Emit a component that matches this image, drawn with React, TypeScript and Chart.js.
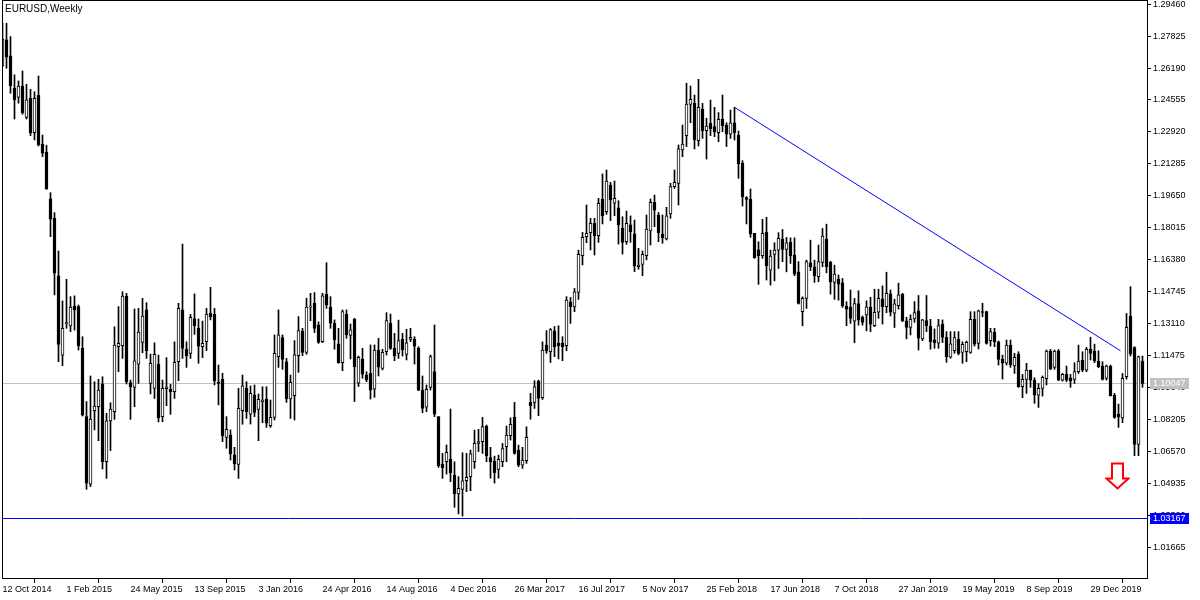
import React, { useEffect, useRef } from 'react';
import { Chart, registerables } from 'chart.js';

Chart.register(...registerables);

const chartTitle = 'EURUSD,Weekly';

const xTickIndex = [0, 16, 32, 48, 64, 80, 96, 112, 128, 144, 160, 176, 192, 208, 224, 240, 256, 272];
const xTickLabels = [
  '12 Oct 2014', '1 Feb 2015', '24 May 2015', '13 Sep 2015', '3 Jan 2016', '24 Apr 2016',
  '14 Aug 2016', '4 Dec 2016', '26 Mar 2017', '16 Jul 2017', '5 Nov 2017', '25 Feb 2018',
  '17 Jun 2018', '7 Oct 2018', '27 Jan 2019', '19 May 2019', '8 Sep 2019', '29 Dec 2019',
];

const priceTicks = [
  1.01665, 1.033, 1.04935, 1.0657, 1.08205, 1.0984, 1.11475, 1.1311, 1.14745,
  1.1638, 1.18015, 1.1965, 1.21285, 1.2292, 1.24555, 1.2619, 1.27825, 1.2946,
];

const openP = [
  1.2630,1.2763,1.2681,1.2515,1.2469,1.2527,1.2366,1.2464,1.2288,1.2479,
  1.2230,1.2188,1.1949,1.1850,1.1555,1.1150,1.1310,1.1299,1.1401,1.1398,
  1.1185,1.0835,1.0489,1.0865,1.0886,1.1002,1.0604,1.0813,1.0860,1.1193,
  1.1198,1.1452,1.1009,1.0985,1.1104,1.1215,1.1381,1.1005,1.0980,1.1104,
  1.0835,1.0978,1.0975,1.0963,1.1116,1.1381,1.1181,1.1159,1.1335,1.1287,
  1.1193,1.1219,1.1364,1.1360,1.1011,1.1026,1.0729,1.0741,1.0639,1.0591,
  1.0866,1.0980,1.0848,1.0946,1.0872,1.0912,1.0924,1.0789,1.0831,1.1142,
  1.1239,1.1116,1.0925,1.0942,1.1147,1.1273,1.1164,1.1395,1.1415,1.1304,
  1.1219,1.1461,1.1395,1.1313,1.1207,1.1111,1.1359,1.1250,1.1333,1.1006,
  1.1130,1.1048,1.1057,1.0975,1.1176,1.1082,1.1167,1.1312,1.1184,1.1159,
  1.1231,1.1154,1.1230,1.1230,1.1184,1.0971,1.0883,1.0985,1.1065,1.0835,
  1.0592,1.0604,1.0616,1.0536,1.0439,1.0463,1.0507,1.0528,1.0604,1.0698,
  1.0707,1.0787,1.0626,1.0608,1.0565,1.0604,1.0681,1.0737,1.0831,1.0664,
  1.0587,1.0609,1.0908,1.0908,1.1017,1.0932,1.1201,1.1167,1.1273,1.1210,
  1.1210,1.1198,1.1423,1.1397,1.1471,1.1659,1.1756,1.1776,1.1824,1.1761,
  1.1947,1.1884,1.2020,1.1927,1.1904,1.1799,1.1730,1.1816,1.1770,1.1603,
  1.1614,1.1659,1.1785,1.1932,1.1867,1.1770,1.1744,1.1872,1.2012,1.2029,
  1.2200,1.2273,1.2433,1.2438,1.2247,1.2408,1.2299,1.2336,1.2319,1.2288,
  1.2357,1.2327,1.2281,1.2339,1.2276,1.2131,1.1956,1.1947,1.1773,1.1688,
  1.1659,1.1778,1.1585,1.1665,1.1687,1.1742,1.1691,1.1727,1.1662,1.1576,
  1.1372,1.1440,1.1622,1.1602,1.1551,1.1624,1.1744,1.1624,1.1522,1.1539,
  1.1520,1.1401,1.1394,1.1324,1.1414,1.1343,1.1355,1.1395,1.1301,1.1369,
  1.1436,1.1398,1.1463,1.1364,1.1403,1.1461,1.1325,1.1292,1.1335,1.1376,
  1.1233,1.1327,1.1299,1.1228,1.1211,1.1309,1.1241,1.1139,1.1173,1.1231,
  1.1164,1.1167,1.1164,1.1333,1.1210,1.1372,1.1372,1.1224,1.1266,1.1218,
  1.1128,1.1108,1.1201,1.1094,1.1155,1.0988,1.1026,1.1073,1.1022,1.0945,
  1.0980,1.1029,1.1171,1.1087,1.1172,1.1022,1.1051,1.1034,1.1026,1.1065,
  1.1125,1.1073,1.1179,1.1171,1.1119,1.1094,1.1031,1.1094,1.0945,1.0848,
  1.0829,1.1039,1.1350,1.1189,1.0693,1.1119,
];

const highP = [
  1.2850,1.2848,1.2780,1.2584,1.2553,1.2604,1.2536,1.2510,1.2498,1.2578,
  1.2276,1.2224,1.1981,1.1879,1.1683,1.1427,1.1538,1.1449,1.1453,1.1406,
  1.1244,1.0912,1.1043,1.1014,1.1026,1.1039,1.0852,1.0906,1.1295,1.1398,
  1.1474,1.1466,1.1022,1.1386,1.1389,1.1440,1.1418,1.1155,1.1213,1.1150,
  1.1022,1.1137,1.1000,1.1218,1.1415,1.1718,1.1218,1.1358,1.1463,1.1335,
  1.1324,1.1389,1.1497,1.1389,1.1099,1.1057,1.0835,1.0767,1.0678,1.0980,
  1.1048,1.1014,1.0992,1.0997,1.0951,1.0988,1.0988,1.0920,1.1253,1.1381,
  1.1253,1.1133,1.1048,1.1224,1.1347,1.1287,1.1441,1.1466,1.1470,1.1320,
  1.1466,1.1623,1.1449,1.1330,1.1287,1.1381,1.1381,1.1309,1.1338,1.1145,
  1.1185,1.1065,1.1202,1.1202,1.1236,1.1180,1.1367,1.1360,1.1261,1.1329,
  1.1261,1.1282,1.1287,1.1244,1.1193,1.1043,1.0997,1.1150,1.1304,1.0835,
  1.0647,1.0690,1.0874,1.0604,1.0528,1.0650,1.0647,1.0664,1.0766,1.0770,
  1.0831,1.0792,1.0678,1.0633,1.0638,1.0698,1.0787,1.0829,1.0908,1.0689,
  1.0678,1.0783,1.0954,1.1019,1.1022,1.1218,1.1275,1.1286,1.1296,1.1300,
  1.1244,1.1449,1.1445,1.1491,1.1687,1.1778,1.1918,1.1850,1.1850,1.1952,
  1.2077,1.2097,1.2034,1.2041,1.1940,1.1858,1.1887,1.1862,1.1841,1.1696,
  1.1683,1.1867,1.1949,1.1969,1.1880,1.1867,1.1906,1.2029,1.2097,1.2225,
  1.2327,1.2541,1.2527,1.2481,1.2561,1.2438,1.2362,1.2455,1.2418,1.2391,
  1.2481,1.2339,1.2404,1.2418,1.2297,1.2145,1.1961,1.2000,1.1773,1.1730,
  1.1845,1.1855,1.1687,1.1725,1.1776,1.1793,1.1752,1.1750,1.1750,1.1628,
  1.1448,1.1636,1.1738,1.1636,1.1713,1.1798,1.1820,1.1630,1.1610,1.1560,
  1.1542,1.1423,1.1483,1.1440,1.1479,1.1350,1.1428,1.1446,1.1487,1.1487,
  1.1504,1.1574,1.1483,1.1436,1.1518,1.1466,1.1344,1.1356,1.1424,1.1455,
  1.1333,1.1455,1.1333,1.1284,1.1333,1.1330,1.1270,1.1270,1.1270,1.1270,
  1.1218,1.1222,1.1372,1.1372,1.1380,1.1415,1.1375,1.1287,1.1287,1.1222,
  1.1150,1.1227,1.1227,1.1159,1.1167,1.1051,1.1108,1.1073,1.1034,1.1005,
  1.1043,1.1176,1.1179,1.1176,1.1179,1.1056,1.1094,1.1051,1.1111,1.1201,
  1.1167,1.1189,1.1241,1.1206,1.1172,1.1116,1.1099,1.1099,1.0954,1.0899,
  1.1056,1.1363,1.1500,1.1193,1.1145,1.1145,
];

const lowP = [
  1.2626,1.2618,1.2490,1.2358,1.2439,1.2382,1.2358,1.2273,1.2251,1.2220,
  1.2166,1.1998,1.1756,1.1458,1.1116,1.1096,1.1287,1.1270,1.1278,1.1176,
  1.0838,1.0463,1.0477,1.0767,1.0712,1.0567,1.0519,1.0661,1.0821,1.1065,
  1.1133,1.1002,1.0821,1.0886,1.1005,1.1162,1.1133,1.0951,1.0928,1.0808,
  1.0809,1.0891,1.0847,1.0928,1.1019,1.1133,1.1087,1.1133,1.1256,1.1108,
  1.1137,1.1173,1.1330,1.0997,1.0895,1.0707,1.0673,1.0613,1.0562,1.0519,
  1.0796,1.0826,1.0797,1.0835,1.0712,1.0804,1.0780,1.0780,1.0818,1.1087,
  1.1077,1.0908,1.0826,1.0818,1.1062,1.1147,1.1154,1.1326,1.1265,1.1210,
  1.1214,1.1389,1.1287,1.1180,1.1108,1.1070,1.1236,1.1130,1.0912,1.0989,
  1.1031,1.1014,1.0925,1.0934,1.1043,1.1074,1.1150,1.1179,1.1121,1.1133,
  1.1145,1.1125,1.1219,1.1104,1.0968,1.0855,1.0860,1.0971,1.0835,1.0575,
  1.0519,1.0541,1.0502,1.0371,1.0337,1.0326,1.0451,1.0456,1.0570,1.0656,
  1.0647,1.0604,1.0520,1.0495,1.0520,1.0579,1.0604,1.0715,1.0643,1.0579,
  1.0570,1.0596,1.0822,1.0877,1.0840,1.0923,1.1159,1.1112,1.1142,1.1130,
  1.1121,1.1172,1.1312,1.1372,1.1435,1.1611,1.1725,1.1688,1.1662,1.1727,
  1.1821,1.1870,1.1838,1.1863,1.1718,1.1667,1.1717,1.1727,1.1577,1.1589,
  1.1556,1.1637,1.1713,1.1807,1.1730,1.1722,1.1739,1.1850,1.2003,1.1918,
  1.2165,1.2217,1.2339,1.2205,1.2220,1.2259,1.2153,1.2273,1.2268,1.2242,
  1.2293,1.2217,1.2259,1.2251,1.2055,1.1913,1.1821,1.1753,1.1645,1.1512,
  1.1645,1.1534,1.1508,1.1530,1.1593,1.1628,1.1576,1.1619,1.1556,1.1411,
  1.1300,1.1389,1.1582,1.1522,1.1525,1.1602,1.1571,1.1462,1.1435,1.1431,
  1.1394,1.1300,1.1312,1.1213,1.1303,1.1303,1.1274,1.1270,1.1296,1.1338,
  1.1309,1.1367,1.1350,1.1291,1.1385,1.1321,1.1233,1.1253,1.1318,1.1176,
  1.1224,1.1270,1.1180,1.1185,1.1185,1.1214,1.1113,1.1134,1.1159,1.1151,
  1.1108,1.1116,1.1159,1.1196,1.1181,1.1346,1.1206,1.1196,1.1193,1.1099,
  1.1027,1.1099,1.1087,1.1056,1.0985,1.0932,1.0954,1.0985,1.0903,1.0882,
  1.0940,1.0997,1.1075,1.1077,1.1019,1.1017,1.1014,1.0985,1.1005,1.1056,
  1.1065,1.1065,1.1125,1.1111,1.1085,1.1022,1.1022,1.0940,1.0826,1.0780,
  1.0804,1.1027,1.1145,1.0635,1.0635,1.0985,
];

const closeP = [
  1.2766,1.2674,1.2529,1.2456,1.2527,1.2391,1.2456,1.2288,1.2464,1.2225,
  1.2183,1.2000,1.1845,1.1569,1.1205,1.1287,1.1316,1.1395,1.1381,1.1198,
  1.0843,1.0494,1.0823,1.0889,1.0971,1.0604,1.0813,1.0874,1.1201,1.1210,
  1.1452,1.1014,1.0988,1.1120,1.1268,1.1350,1.1172,1.1108,1.1154,1.0830,
  1.0980,1.0988,1.0963,1.1113,1.1389,1.1184,1.1147,1.1343,1.1301,1.1196,
  1.1210,1.1360,1.1347,1.1019,1.1005,1.0736,1.0770,1.0644,1.0593,1.0877,
  1.0992,1.0860,1.0954,1.0857,1.0924,1.0920,1.0801,1.0831,1.1159,1.1253,
  1.1128,1.0925,1.1011,1.1151,1.1275,1.1164,1.1395,1.1401,1.1287,1.1215,
  1.1453,1.1407,1.1313,1.1227,1.1111,1.1372,1.1253,1.1279,1.1091,1.1139,
  1.1052,1.1023,1.0971,1.1176,1.1088,1.1164,1.1326,1.1184,1.1147,1.1224,
  1.1176,1.1213,1.1241,1.1196,1.0971,1.0877,1.0975,1.1142,1.0848,1.0584,
  1.0574,1.0652,1.0548,1.0439,1.0468,1.0507,1.0524,1.0644,1.0698,1.0707,
  1.0784,1.0635,1.0604,1.0548,1.0616,1.0672,1.0741,1.0795,1.0647,1.0587,
  1.0613,1.0729,1.0891,1.0988,1.0928,1.1176,1.1172,1.1281,1.1193,1.1198,
  1.1193,1.1432,1.1397,1.1474,1.1665,1.1753,1.1773,1.1824,1.1761,1.1927,
  1.1863,1.2041,1.1944,1.1952,1.1816,1.1727,1.1824,1.1782,1.1606,1.1611,
  1.1666,1.1795,1.1932,1.1892,1.1776,1.1751,1.1863,1.2012,1.2034,1.2205,
  1.2230,1.2435,1.2459,1.2251,1.2418,1.2297,1.2322,1.2307,1.2293,1.2357,
  1.2324,1.2281,1.2339,1.2288,1.2128,1.1961,1.1947,1.1770,1.1649,1.1659,
  1.1773,1.1608,1.1657,1.1687,1.1747,1.1691,1.1725,1.1658,1.1564,1.1414,
  1.1440,1.1628,1.1602,1.1556,1.1628,1.1759,1.1602,1.1525,1.1564,1.1513,
  1.1401,1.1385,1.1338,1.1414,1.1329,1.1317,1.1397,1.1308,1.1369,1.1441,
  1.1398,1.1466,1.1369,1.1412,1.1458,1.1325,1.1292,1.1333,1.1367,1.1236,
  1.1330,1.1301,1.1219,1.1214,1.1301,1.1241,1.1142,1.1207,1.1240,1.1159,
  1.1205,1.1215,1.1333,1.1206,1.1377,1.1368,1.1210,1.1270,1.1218,1.1128,
  1.1108,1.1201,1.1099,1.1138,1.0988,1.1026,1.1073,1.1022,1.0945,1.0980,
  1.1036,1.1171,1.1080,1.1171,1.1022,1.1051,1.1022,1.1017,1.1065,1.1119,
  1.1073,1.1179,1.1159,1.1121,1.1090,1.1026,1.1094,1.0942,1.0831,1.0834,
  1.1031,1.1292,1.1155,1.0693,1.1142,1.1005,
];

const currentPrice = 1.10047;
const supportLevel = 1.03167;
const trendStartBar = 183;
const trendStartPrice = 1.2418;
const trendEndBar = 279.5;
const trendEndPrice = 1.1172;
const arrowBar = 278.75;
const arrowPrice = 1.05312;

const xMin = -0.125;
const xMax = 286.125;
const yMin = 1.00092;
const yMax = 1.29671;

const FONT = "'Liberation Sans', Arial, sans-serif";

function makeArrow(): HTMLCanvasElement {
  const c = document.createElement('canvas');
  c.width = 25;
  c.height = 28;
  const g = c.getContext('2d') as CanvasRenderingContext2D;
  g.beginPath();
  g.moveTo(7, 1.5);
  g.lineTo(18, 1.5);
  g.lineTo(18, 16.5);
  g.lineTo(23.5, 16.5);
  g.lineTo(12.5, 26.5);
  g.lineTo(1.5, 16.5);
  g.lineTo(7, 16.5);
  g.closePath();
  g.fillStyle = '#ffffff';
  g.fill();
  g.strokeStyle = '#ff0000';
  g.lineWidth = 2;
  g.stroke();
  return c;
}

const overlayPlugin = {
  id: 'mtOverlay',
  beforeDatasetsDraw(chart: any) {
    const { ctx, chartArea: a, scales } = chart;
    ctx.save();
    ctx.lineWidth = 1;
    const levels: [number, string][] = [
      [currentPrice, '#c0c0c0'],
      [supportLevel, '#0000ff'],
    ];
    levels.forEach(([v, col]) => {
      const py = Math.round(scales.y.getPixelForValue(v)) + 0.5;
      ctx.strokeStyle = col;
      ctx.beginPath();
      ctx.moveTo(a.left, py);
      ctx.lineTo(a.right, py);
      ctx.stroke();
    });
    ctx.restore();
  },
  afterDraw(chart: any) {
    const { ctx, chartArea: a, scales } = chart;
    ctx.save();
    ctx.strokeStyle = '#000000';
    ctx.lineWidth = 1;
    ctx.strokeRect(a.left + 0.5, a.top + 0.5, a.right - a.left, a.bottom - a.top);
    ctx.fillStyle = '#000000';
    ctx.font = `10px ${FONT}`;
    ctx.textAlign = 'left';
    ctx.textBaseline = 'middle';
    ctx.fillText(chartTitle, a.left + 3, 9);
    const tags: [number, string][] = [
      [currentPrice, '#c0c0c0'],
      [supportLevel, '#0000ff'],
    ];
    ctx.font = `9px ${FONT}`;
    tags.forEach(([v, col]) => {
      const py = Math.round(scales.y.getPixelForValue(v));
      ctx.fillStyle = col;
      ctx.fillRect(a.right + 3, py - 5, 39, 11);
      ctx.fillStyle = '#ffffff';
      ctx.fillText(v.toFixed(5), a.right + 6, py + 0.5);
    });
    ctx.restore();
  },
};

export default function App() {
  const ref = useRef<HTMLCanvasElement | null>(null);

  useEffect(() => {
    if (!ref.current) return;
    const wickData = highP.map((h, i) => ({ x: i, y: [lowP[i], h] }));
    const bodyData = openP.map((o, i) => ({ x: i, y: [o, closeP[i]] }));
    const bodyFill = openP.map((o, i) => (closeP[i] >= o ? '#ffffff' : '#000000'));
    const arrow = makeArrow();

    const chart = new Chart(ref.current, {
      type: 'bar',
      data: {
        datasets: [
          {
            type: 'line',
            data: [{ x: arrowBar, y: arrowPrice }],
            showLine: false,
            pointStyle: arrow as any,
            pointRadius: 5,
            order: 0,
          } as any,
          {
            type: 'line',
            data: [
              { x: trendStartBar, y: trendStartPrice },
              { x: trendEndBar, y: trendEndPrice },
            ],
            borderColor: '#0000ff',
            borderWidth: 1,
            pointRadius: 0,
            fill: false,
            tension: 0,
            order: 1,
          } as any,
          {
            data: bodyData as any,
            backgroundColor: bodyFill,
            borderColor: '#000000',
            borderWidth: 1,
            borderSkipped: false,
            barThickness: 3,
            barPercentage: 1,
            categoryPercentage: 1,
            grouped: false,
            minBarLength: 1,
            order: 4,
          } as any,
          {
            data: wickData as any,
            backgroundColor: '#000000',
            borderWidth: 0,
            barThickness: 1,
            barPercentage: 1,
            categoryPercentage: 1,
            grouped: false,
            minBarLength: 1,
            order: 5,
          } as any,
        ],
      },
      options: {
        responsive: false,
        animation: false,
        devicePixelRatio: 1,
        events: [],
        layout: { autoPadding: false, padding: { left: 2, top: 0, right: 0, bottom: 0 } },
        plugins: {
          legend: { display: false },
          tooltip: { enabled: false },
          title: { display: false },
        },
        scales: {
          x: {
            type: 'linear',
            position: 'bottom',
            min: xMin,
            max: xMax,
            offset: false,
            afterBuildTicks: (s: any) => {
              s.ticks = xTickIndex.map((v) => ({ value: v }));
            },
            afterFit: (s: any) => {
              s.height = 22;
              s.paddingLeft = 0;
              s.paddingRight = 0;
            },
            ticks: {
              autoSkip: false,
              maxRotation: 0,
              minRotation: 0,
              align: 'start',
              padding: 1,
              color: '#000000',
              font: { family: FONT, size: 9 },
              callback: (_v: any, i: number) => xTickLabels[i] ?? '',
            },
            grid: { drawOnChartArea: false, drawTicks: true, tickLength: 5, color: '#000000' },
            border: { display: false },
          } as any,
          y: {
            type: 'linear',
            position: 'right',
            min: yMin,
            max: yMax,
            afterBuildTicks: (s: any) => {
              s.ticks = priceTicks.map((v) => ({ value: v }));
            },
            afterFit: (s: any) => {
              s.width = 53;
              s.paddingTop = 0;
              s.paddingBottom = 0;
            },
            ticks: {
              padding: 2,
              color: '#000000',
              font: { family: FONT, size: 9 },
              callback: (v: any) => Number(v).toFixed(5),
            },
            grid: { drawOnChartArea: false, drawTicks: true, tickLength: 4, color: '#000000' },
            border: { display: false },
          } as any,
        },
      },
      plugins: [overlayPlugin],
    });
    return () => chart.destroy();
  }, []);

  return (
    <canvas
      ref={ref}
      width={1200}
      height={600}
      style={{ position: 'fixed', left: 0, top: 0, width: 1200, height: 600, background: '#ffffff' }}
    />
  );
}
